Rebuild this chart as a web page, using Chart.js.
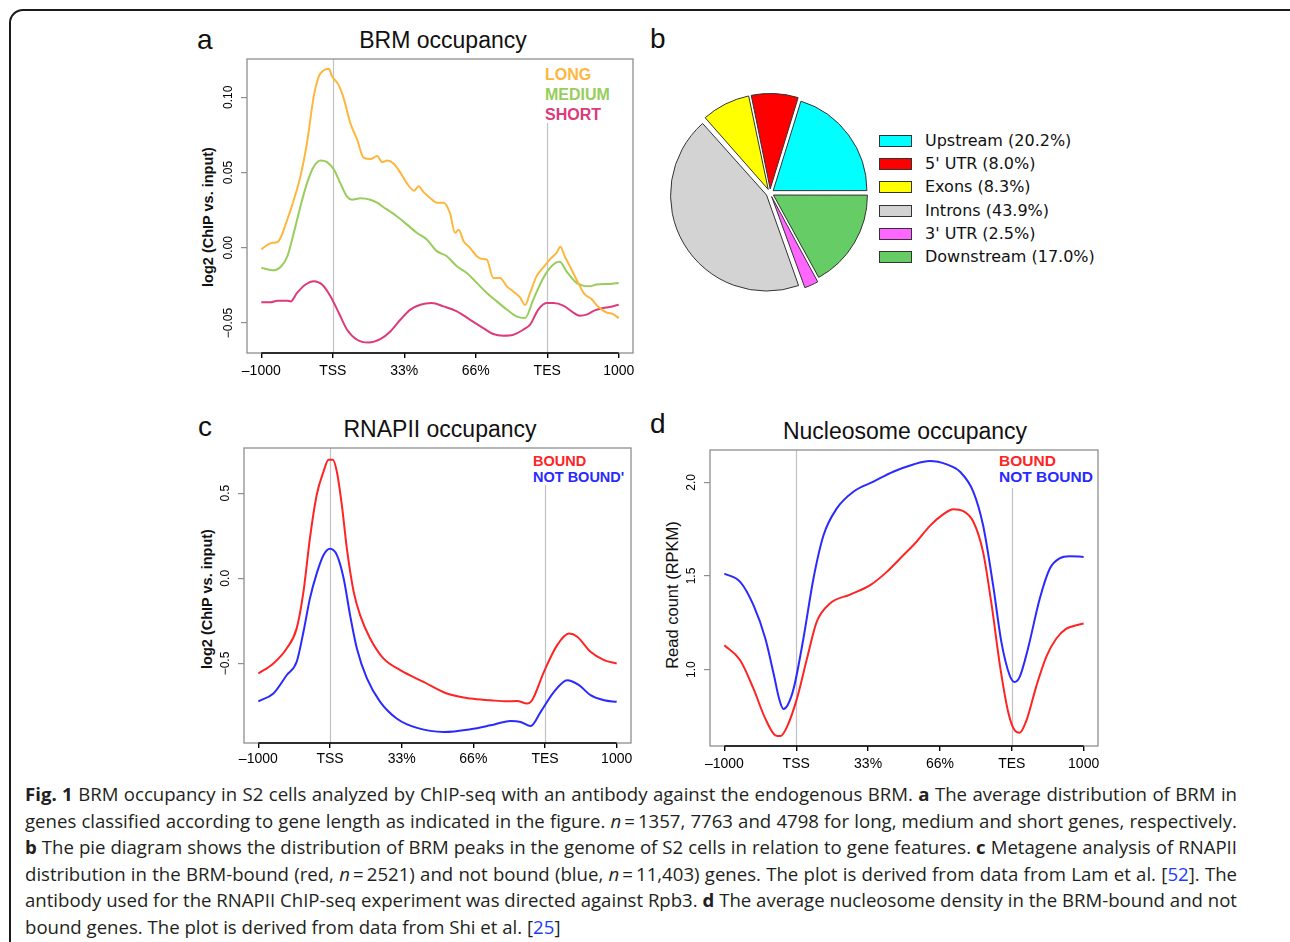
<!DOCTYPE html>
<html>
<head>
<meta charset="utf-8">
<script src="https://cdn.jsdelivr.net/npm/chart.js@4.4.0/dist/chart.umd.min.js"></script>
<style>
  body { margin: 0; background: #fff; width: 1290px; height: 942px; overflow: hidden; position: relative;
         font-family: "Liberation Sans", Arial, sans-serif; color: #111; }
  .abs { position: absolute; white-space: nowrap; }
  .frame { position: absolute; left: 9px; top: 9px; width: 1290px; height: 1000px; border: 2px solid #1a1a1a; border-radius: 14px; }
  .letter { font-size: 28px; line-height: 32px; }
  .title { font-size: 23px; line-height: 26px; width: 400px; text-align: center; }
  .ytitle { width: 300px; text-align: center; line-height: 18px; transform: rotate(-90deg); }
  .leg { font-weight: bold; }
  .pieleg { font-family: "DejaVu Sans", sans-serif; font-size: 16px; color: #111; }
  .pieleg .sw { position: absolute; width: 31px; height: 10px; border: 1px solid #333; }
  .cap { position: absolute; left: 25px; top: 781px; width: 1212px; font-family: "Open Sans", sans-serif;
         font-size: 18.6px; color: #231f20; }
  .cap div { height: 26.6px; line-height: 26.6px; white-space: nowrap; }
  .cap .j { text-align: justify; text-align-last: justify; white-space: normal; overflow: hidden; }
  .cap a { color: #1a3cff; text-decoration: none; }
</style>
</head>
<body>
<div class="frame"></div>

<!-- panel letters and titles -->
<div class="abs letter" style="left:197px;top:24px;">a</div>
<div class="abs letter" style="left:650px;top:23px;">b</div>
<div class="abs letter" style="left:198px;top:411px;">c</div>
<div class="abs letter" style="left:650px;top:408px;">d</div>
<div class="abs title" style="left:243px;top:27px;">BRM occupancy</div>
<div class="abs title" style="left:240px;top:416px;">RNAPII occupancy</div>
<div class="abs title" style="left:705px;top:418px;">Nucleosome occupancy</div>

<!-- y axis titles -->
<div class="abs ytitle" style="left:58px;top:208px;font-weight:bold;font-size:14.5px;">log2 (ChIP vs. input)</div>
<div class="abs ytitle" style="left:57px;top:590px;font-weight:bold;font-size:14.5px;">log2 (ChIP vs. input)</div>
<div class="abs ytitle" style="left:522px;top:586px;font-size:16.5px;">Read count (RPKM)</div>

<div id="legA"></div>
<div id="legC"></div>
<div id="legD"></div>
<div id="legB" class="pieleg"></div>

<canvas id="chartA" class="abs" width="450" height="340" style="left:195px;top:50px;"></canvas>
<canvas id="chartB" class="abs" width="204" height="204" style="left:668px;top:91px;"></canvas>
<canvas id="chartC" class="abs" width="450" height="335" style="left:195px;top:440px;"></canvas>
<canvas id="chartD" class="abs" width="450" height="340" style="left:660px;top:440px;"></canvas>

<div class="cap">
  <div class="j"><b>Fig. 1</b> BRM occupancy in S2 cells analyzed by ChIP-seq with an antibody against the endogenous BRM. <b>a</b> The average distribution of BRM in</div>
  <div class="j">genes classified according to gene length as indicated in the figure. <i>n</i>&#8201;=&#8201;1357, 7763 and 4798 for long, medium and short genes, respectively.</div>
  <div class="j"><b>b</b> The pie diagram shows the distribution of BRM peaks in the genome of S2 cells in relation to gene features. <b>c</b> Metagene analysis of RNAPII</div>
  <div class="j">distribution in the BRM-bound (red, <i>n</i>&#8201;=&#8201;2521) and not bound (blue, <i>n</i>&#8201;=&#8201;11,403) genes. The plot is derived from data from Lam et al. [<a>52</a>]. The</div>
  <div class="j">antibody used for the RNAPII ChIP-seq experiment was directed against Rpb3. <b>d</b> The average nucleosome density in the BRM-bound and not</div>
  <div>bound genes. The plot is derived from data from Shi et al. [<a>25</a>]</div>
</div>

<script>
// shared x axis: -1000 .. TSS .. gene body .. TES .. 1000 (0..100 scale)
const xTickPos = [0, 20, 40, 60, 80, 100];
const xTickLabels = ["\u20131000", "TSS", "33%", "66%", "TES", "1000"];

// a: BRM occupancy
const brmLong = [[0,-0.001],[1.7,0.002],[3.1,0.0033],[4.5,0.0038],[5.4,0.0067],[7.3,0.019],[9.1,0.032],[11,0.048],
  [12.8,0.07],[14.7,0.101],[16.1,0.114],[17.5,0.118],[18.9,0.119],[19.8,0.114],[21.7,0.108],[23.1,0.099],[24.9,0.083],
  [26.8,0.072],[28.6,0.060],[30.5,0.059],[32.4,0.061],[33.8,0.057],[35.2,0.058],[37,0.056],[38.9,0.050],[40.7,0.043],
  [42.8,0.038],[44,0.041],[45.4,0.037],[47.3,0.033],[49.1,0.030],[51,0.030],[52.8,0.023],[54.2,0.010],[55.2,0.012],
  [56.6,0.0044],[58.4,0.0],[60.3,-0.0056],[61.7,-0.0073],[63.1,-0.0078],[64.9,-0.020],[66.8,-0.020],[68.7,-0.0256],
  [70.5,-0.029],[72.4,-0.033],[73.8,-0.038],[75.2,-0.030],[77,-0.019],[78.9,-0.013],[80.7,-0.0078],[82.6,-0.0033],
  [83.7,0.0007],[84.9,-0.0056],[86.8,-0.0144],[88.6,-0.023],[90.5,-0.031],[92.4,-0.034],[94.2,-0.039],[96.6,-0.043],
  [98.4,-0.044],[100,-0.0467]];
const brmMedium = [[0,-0.0133],[3.1,-0.0149],[5.4,-0.0127],[7.3,-0.0056],[9.1,0.010],[11,0.028],[12.8,0.043],[14.7,0.054],
  [16.6,0.058],[18.4,0.057],[20.3,0.052],[22.1,0.043],[24,0.034],[25.4,0.032],[27.7,0.033],[30.5,0.032],[32.4,0.030],
  [34.2,0.027],[36.1,0.024],[37.9,0.021],[40.7,0.0156],[43.5,0.010],[46.3,0.0056],[49.1,-0.0022],[51.9,-0.0056],
  [54.7,-0.0122],[57.5,-0.0167],[60.3,-0.0233],[63.1,-0.030],[65.9,-0.0356],[68.7,-0.041],[71.4,-0.0456],[73.8,-0.0467],
  [76.1,-0.0344],[78.9,-0.020],[81.7,-0.0111],[83.5,-0.0093],[85.4,-0.0156],[88.2,-0.0233],[90,-0.0251],[91.9,-0.0256],
  [93.8,-0.0244],[97.5,-0.024],[100,-0.0233]];
const brmShort = [[0,-0.0362],[2.6,-0.0362],[4.5,-0.0351],[7.3,-0.0351],[8.2,-0.0356],[10,-0.030],[12.4,-0.0244],
  [14.7,-0.0222],[17,-0.0244],[19.3,-0.032],[21.7,-0.0433],[24,-0.0544],[26.8,-0.0611],[30,-0.0629],[33.3,-0.0607],
  [36.1,-0.0556],[38.9,-0.0478],[41.7,-0.0411],[44.5,-0.0378],[47.7,-0.0367],[51,-0.0389],[54.7,-0.0422],[58.4,-0.0478],
  [62.1,-0.0533],[64.9,-0.0573],[67.7,-0.0584],[70.5,-0.0578],[73.3,-0.0544],[75.2,-0.0511],[77.5,-0.0411],[79.8,-0.0367],
  [81.7,-0.0367],[84.5,-0.0384],[86.8,-0.0422],[89.1,-0.0451],[91,-0.0444],[93.3,-0.0416],[95.6,-0.04],[97.5,-0.0393],
  [100,-0.0378]];
const brmYTicks = [-0.05, 0, 0.05, 0.10];
const brmYLabels = ["\u22120.05", "0.00", "0.05", "0.10"];

// b: BRM peaks by gene feature
const pieLabels = ["Upstream (20.2%)", "5' UTR (8.0%)", "Exons (8.3%)", "Introns (43.9%)", "3' UTR (2.5%)", "Downstream (17.0%)"];
const pieValues = [20.2, 8.0, 8.3, 43.9, 2.5, 17.0];
const pieColors = ["#00ffff", "#ff0000", "#ffff00", "#d3d3d3", "#ff66ff", "#66cc66"];

// c: RNAPII occupancy
const polBound = [[0,-0.559],[4.2,-0.5],[7.9,-0.412],[10.7,-0.294],[12.6,-0.078],[14.4,0.235],[16.3,0.49],[18.2,0.627],
  [19.6,0.696],[20.8,0.696],[21.9,0.627],[23.3,0.431],[24.7,0.176],[26.6,-0.078],[28.4,-0.216],[31.2,-0.353],[34.9,-0.47],
  [39.6,-0.539],[46.1,-0.608],[52.6,-0.676],[59.2,-0.706],[64.8,-0.716],[69.4,-0.722],[72.2,-0.72],[75,-0.735],
  [76.4,-0.716],[79.7,-0.549],[83.4,-0.392],[86.7,-0.324],[89,-0.343],[92.7,-0.431],[96.5,-0.48],[100,-0.5]];
const polNotBound = [[0,-0.722],[4.2,-0.676],[7.9,-0.569],[10.7,-0.49],[12.6,-0.314],[14.4,-0.118],[16.3,0.029],[18.2,0.137],
  [20,0.173],[21.9,0.137],[23.8,0.0],[25.6,-0.216],[27.5,-0.412],[30.3,-0.588],[34,-0.725],[38.7,-0.824],[44.3,-0.878],
  [51.7,-0.902],[59.2,-0.886],[64.8,-0.863],[70.4,-0.837],[73.2,-0.843],[76,-0.867],[78.8,-0.784],[82.5,-0.667],
  [86.2,-0.598],[89.5,-0.627],[92.7,-0.686],[96.5,-0.716],[100,-0.725]];
const polYTicks = [-0.5, 0, 0.5];
const polYLabels = ["\u22120.5", "0.0", "0.5"];

// d: nucleosome occupancy
const nucBound = [[0,1.13],[4.4,1.05],[8.1,0.898],[11.4,0.738],[14.2,0.649],[15.6,0.645],[17.4,0.693],[20.2,0.845],
  [23,1.059],[25.7,1.255],[29.4,1.353],[35,1.401],[40.6,1.451],[45.2,1.522],[49.8,1.611],[53.5,1.683],[57.2,1.768],
  [60.9,1.829],[63.7,1.857],[66.5,1.847],[69.3,1.79],[72,1.629],[74.4,1.344],[76.7,1.023],[79,0.774],[80.8,0.676],
  [82.2,0.663],[84.1,0.729],[86.9,0.916],[89.6,1.068],[92.4,1.166],[95.2,1.219],[98,1.237],[100,1.246]];
const nucNotBound = [[0,1.513],[4.4,1.469],[8.1,1.344],[11.4,1.166],[13.8,0.97],[15.3,0.84],[16.4,0.79],[17.6,0.81],
  [19.3,0.9],[22,1.166],[24.8,1.487],[27.6,1.718],[31.3,1.861],[35.9,1.95],[41.5,2.004],[47,2.057],[52.6,2.096],[57.2,2.114],
  [61.9,2.096],[65.6,2.057],[69.3,1.95],[72,1.772],[74.8,1.451],[77.1,1.148],[79.4,0.97],[80.8,0.934],[82.2,0.961],
  [84.5,1.112],[87.8,1.38],[90.6,1.54],[93.3,1.594],[96.1,1.606],[100,1.602]];
const nucYTicks = [1.0, 1.5, 2.0];
const nucYLabels = ["1.0", "1.5", "2.0"];

Chart.defaults.font.family = "'Liberation Sans', Arial, sans-serif";
Chart.defaults.color = "#000";

// R-like box, grey TSS/TES lines, rotated y labels
function rDecor(yTicks, yLabels, tesGap) {
  return {
    id: "rDecor",
    beforeDatasetsDraw(chart) {
      const { ctx, chartArea: a, scales: { x } } = chart;
      ctx.save();
      ctx.strokeStyle = "#c2c2c2";
      ctx.lineWidth = 1.2;
      [[20, a.top], [80, a.top + tesGap]].forEach(([v, top]) => {
        const px = Math.round(x.getPixelForValue(v)) + 0.5;
        ctx.beginPath(); ctx.moveTo(px, top); ctx.lineTo(px, a.bottom); ctx.stroke();
      });
      ctx.restore();
    },
    afterDraw(chart) {
      const { ctx, chartArea: a, scales: { x, y } } = chart;
      ctx.save();
      ctx.strokeStyle = "#8e8e8e";
      ctx.lineWidth = 1.3;
      ctx.strokeRect(a.left, a.top, a.right - a.left, a.bottom - a.top);
      ctx.strokeStyle = "#000";
      ctx.lineWidth = 1.6;
      ctx.beginPath();
      ctx.moveTo(x.getPixelForValue(xTickPos[0]), a.bottom);
      ctx.lineTo(x.getPixelForValue(xTickPos[xTickPos.length - 1]), a.bottom);
      ctx.stroke();
      ctx.fillStyle = "#000";
      ctx.font = "12px 'Liberation Sans', Arial, sans-serif";
      ctx.textAlign = "center";
      ctx.textBaseline = "middle";
      yTicks.forEach((v, i) => {
        ctx.save();
        ctx.translate(a.left - 18.5, y.getPixelForValue(v));
        ctx.rotate(-Math.PI / 2);
        ctx.fillText(yLabels[i], 0, 0);
        ctx.restore();
      });
      ctx.restore();
    }
  };
}

function lineChart(id, series, yMin, yMax, yTicks, yLabels, pad, xHeight, tesGap, tickPad) {
  return new Chart(document.getElementById(id), {
    type: "line",
    data: {
      datasets: series.map((s) => ({
        data: s.pts.map(([x, y]) => ({ x, y })),
        borderColor: s.color,
        borderWidth: 2,
        pointRadius: 0,
        cubicInterpolationMode: "monotone",
        fill: false
      }))
    },
    options: {
      responsive: false,
      animation: false,
      devicePixelRatio: 1,
      layout: { padding: pad },
      plugins: { legend: { display: false }, tooltip: { enabled: false } },
      scales: {
        x: {
          type: "linear", min: -4, max: 104,
          afterBuildTicks: (s) => { s.ticks = xTickPos.map((v) => ({ value: v })); },
          afterFit: (s) => { s.height = xHeight; },
          border: { display: false },
          grid: { drawOnChartArea: false, drawTicks: true, tickLength: 5, color: "#000", lineWidth: 1.4 },
          ticks: { autoSkip: false, maxRotation: 0, padding: tickPad, font: { size: 14 }, color: "#000",
                   callback: (v, i) => xTickLabels[i] }
        },
        y: {
          type: "linear", min: yMin, max: yMax,
          afterBuildTicks: (s) => { s.ticks = yTicks.map((v) => ({ value: v })); },
          afterFit: (s) => { s.width = 8; },
          border: { display: false },
          grid: { drawOnChartArea: false, drawTicks: true, tickLength: 6, color: "#8e8e8e", lineWidth: 1.2 },
          ticks: { display: false }
        }
      }
    },
    plugins: [rDecor(yTicks, yLabels, tesGap)]
  });
}

lineChart("chartA", [
  { pts: brmLong, color: "#fdb73e" },
  { pts: brmMedium, color: "#98cd5b" },
  { pts: brmShort, color: "#dd3a7a" }
], -0.0699, 0.1255, brmYTicks, brmYLabels, { left: 44, top: 9, right: 12, bottom: 0 }, 37, 64, 5);

lineChart("chartC", [
  { pts: polBound, color: "#ff2424" },
  { pts: polNotBound, color: "#2a2aff" }
], -0.9667, 0.7647, polYTicks, polYLabels, { left: 41, top: 8, right: 14, bottom: 0 }, 32, 37, 3);

lineChart("chartD", [
  { pts: nucBound, color: "#ff2424" },
  { pts: nucNotBound, color: "#2a2aff" }
], 0.592, 2.173, nucYTicks, nucYLabels, { left: 42, top: 10, right: 12, bottom: 0 }, 34, 38, 5);

// text legends for the line panels
function textLegend(elId, x, y0, step, size, items) {
  const el = document.getElementById(elId);
  items.forEach(([txt, color], i) => {
    const d = document.createElement("div");
    d.className = "abs leg";
    d.style.cssText = `left:${x}px;top:${y0 + i * step - 9}px;font-size:${size}px;line-height:18px;color:${color};background:#fff;`;
    d.textContent = txt;
    el.appendChild(d);
  });
}
textLegend("legA", 545, 75, 20, 16, [["LONG", "#fdb73e"], ["MEDIUM", "#98cd5b"], ["SHORT", "#dd3a7a"]]);
textLegend("legC", 533, 461, 16, 14.5, [["BOUND", "#ff2424"], ["NOT BOUND'", "#2a2aff"]]);
textLegend("legD", 999, 461, 16, 15.5, [["BOUND", "#ff2424"], ["NOT BOUND", "#2a2aff"]]);

// b: pie, drawn clockwise from 3 o'clock, so feed it in reverse order
// (Chart.js moves an arc by offset/4, so 16 gives the ~4px explode of the original)
const pieOrder = pieValues.map((_, i) => pieValues.length - 1 - i);
new Chart(document.getElementById("chartB"), {
  type: "pie",
  data: {
    labels: pieOrder.map((i) => pieLabels[i]),
    datasets: [{
      data: pieOrder.map((i) => pieValues[i]),
      backgroundColor: pieOrder.map((i) => pieColors[i]),
      borderColor: "#333",
      borderWidth: 1,
      hoverBorderWidth: 1,
      offset: 16,
      hoverOffset: 16
    }]
  },
  options: {
    responsive: false,
    animation: false,
    devicePixelRatio: 1,
    rotation: 90,
    plugins: { legend: { display: false }, tooltip: { enabled: false } }
  }
});

const legB = document.getElementById("legB");
pieLabels.forEach((lab, i) => {
  const cy = 140.7 + i * 23.3;
  const sw = document.createElement("div");
  sw.className = "sw";
  sw.style.cssText = `left:879px;top:${cy - 6}px;background:${pieColors[i]};`;
  legB.appendChild(sw);
  const t = document.createElement("div");
  t.className = "abs";
  t.style.cssText = `left:925px;top:${cy - 10}px;line-height:20px;`;
  t.textContent = lab;
  legB.appendChild(t);
});
</script>
</body>
</html>
